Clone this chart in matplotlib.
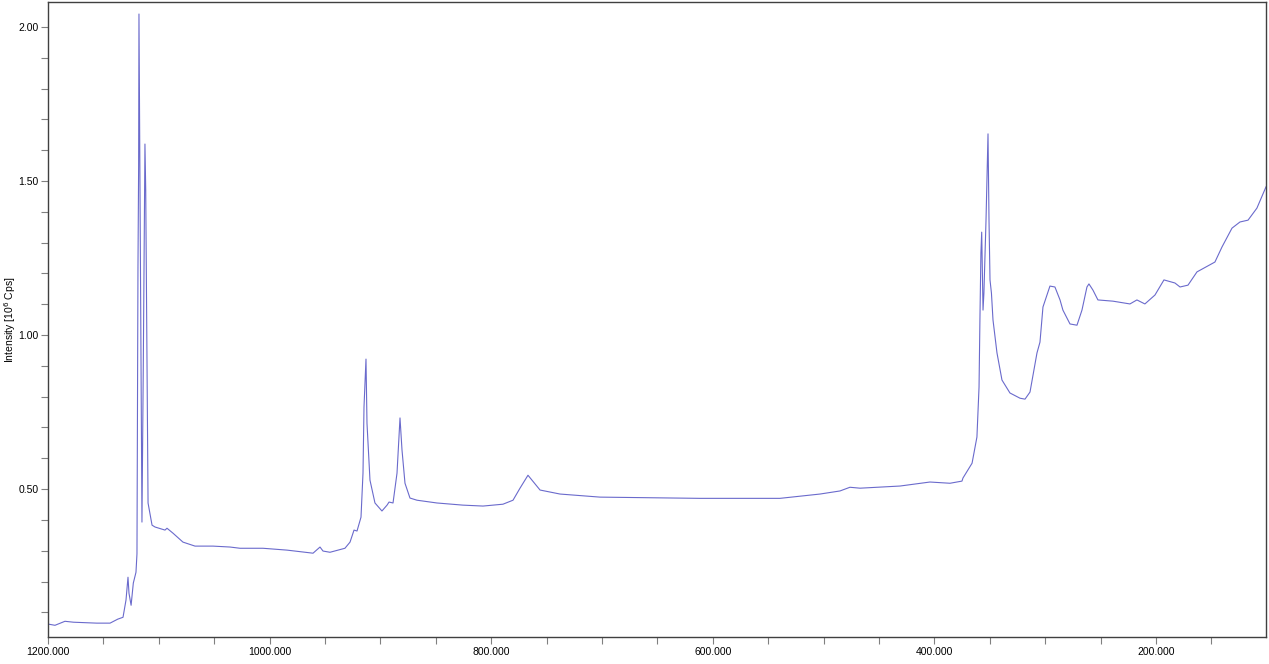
import matplotlib

matplotlib.use("Agg")
import matplotlib.pyplot as plt
from matplotlib.ticker import MultipleLocator, FormatStrFormatter

# binding energy (eV) and intensity (10^6 cps)
energy = [
    1200, 1193.7, 1184.7, 1177, 1156, 1144, 1137, 1132.3, 1129.6, 1127.8,
    1126.9, 1125, 1123, 1120.6, 1119.7, 1118.8, 1118.2, 1117.9, 1116.5, 1115.2,
    1114.0, 1112.5, 1111.8, 1110.6, 1109.7, 1106.1, 1103.4, 1094.4, 1092.6, 1087.2,
    1078.2, 1067.3, 1051.1, 1035.7, 1026.7, 1006, 984.3, 960.8, 954.5, 951.8,
    945.5, 932, 927.4, 923.8, 921.1, 917.5, 915.7, 914.8, 913, 912.1,
    909.4, 904.9, 898.6, 894, 892.2, 888.6, 885, 882.3, 880.5, 877.8,
    873.3, 867, 849, 825.5, 807.4, 789.4, 780.3, 774, 766.8, 755.9,
    737.9, 701.8, 611.6, 539.4, 521.3, 503.2, 485.2, 476.2, 467.1, 431,
    404, 385.9, 375.1, 374.2, 366, 361.6, 359.7, 358.9, 358, 357.3,
    356.7, 356.1, 355.3, 353.4, 351.6, 350.7, 349.8, 348.5, 347.1, 343.5,
    339, 331.8, 322.7, 318.2, 313.7, 307.4, 304.7, 302, 295.7, 291.2,
    286.6, 284, 277.6, 271.3, 266.8, 262.3, 260.5, 256.9, 252.4, 238.8,
    223.5, 217.2, 210, 200.9, 192.8, 182.9, 178.3, 171.1, 163, 146.8,
    140.4, 131.4, 124.2, 116.9, 108.9, 100.7,
]
intensity = [
    0.062, 0.058, 0.071, 0.068, 0.065, 0.065, 0.078, 0.084, 0.14, 0.214,
    0.162, 0.123, 0.195, 0.23, 0.29, 1.22, 1.55, 2.042, 1.20, 0.393,
    0.9, 1.62, 1.47, 0.9, 0.455, 0.383, 0.377, 0.367, 0.373, 0.357,
    0.328, 0.315, 0.315, 0.312, 0.308, 0.308, 0.302, 0.292, 0.312, 0.299,
    0.295, 0.308, 0.328, 0.367, 0.364, 0.409, 0.552, 0.766, 0.922, 0.714,
    0.529, 0.455, 0.429, 0.448, 0.458, 0.455, 0.552, 0.731, 0.627, 0.519,
    0.471, 0.464, 0.455, 0.448, 0.445, 0.451, 0.464, 0.503, 0.545, 0.497,
    0.484, 0.474, 0.470, 0.470, 0.477, 0.484, 0.494, 0.506, 0.503, 0.51,
    0.523, 0.519, 0.526, 0.536, 0.584, 0.669, 0.831, 1.049, 1.266, 1.334,
    1.211, 1.081, 1.136, 1.373, 1.653, 1.373, 1.179, 1.136, 1.049, 0.942,
    0.854, 0.812, 0.795, 0.792, 0.815, 0.942, 0.977, 1.091, 1.159, 1.156,
    1.114, 1.081, 1.036, 1.032, 1.081, 1.156, 1.166, 1.146, 1.114, 1.11,
    1.101, 1.114, 1.101, 1.13, 1.179, 1.169, 1.156, 1.162, 1.205, 1.237,
    1.286, 1.347, 1.367, 1.373, 1.412, 1.481,
]

plt.rcParams["font.family"] = ["Liberation Sans", "DejaVu Sans"]

fig = plt.figure(figsize=(12.69, 6.64), dpi=100)
ax = fig.add_axes([48 / 1269, 27 / 664, 1218 / 1269, 635 / 664])

ax.plot(energy, intensity, color="#6a6acc", lw=0.8)

ax.set_xlim(1200, 100.7)
ax.set_ylim(0.02, 2.081)

ax.xaxis.set_major_locator(MultipleLocator(200))
ax.xaxis.set_minor_locator(MultipleLocator(50))
ax.xaxis.set_major_formatter(FormatStrFormatter("%.3f"))
ax.yaxis.set_major_locator(MultipleLocator(0.5))
ax.yaxis.set_minor_locator(MultipleLocator(0.1))
ax.yaxis.set_major_formatter(FormatStrFormatter("%.2f"))

ax.tick_params(which="both", direction="out", length=5, width=0.8,
               color="#808080", labelsize=7.5, pad=2)
for sp in ax.spines.values():
    sp.set_color("#404040")
    sp.set_linewidth(1.0)

ax.set_ylabel("Intensity [10$^6$ Cps]", fontsize=7.5)
ax.yaxis.set_label_coords(-0.0245, 0.5)

fig.savefig("out.png", dpi=100)
